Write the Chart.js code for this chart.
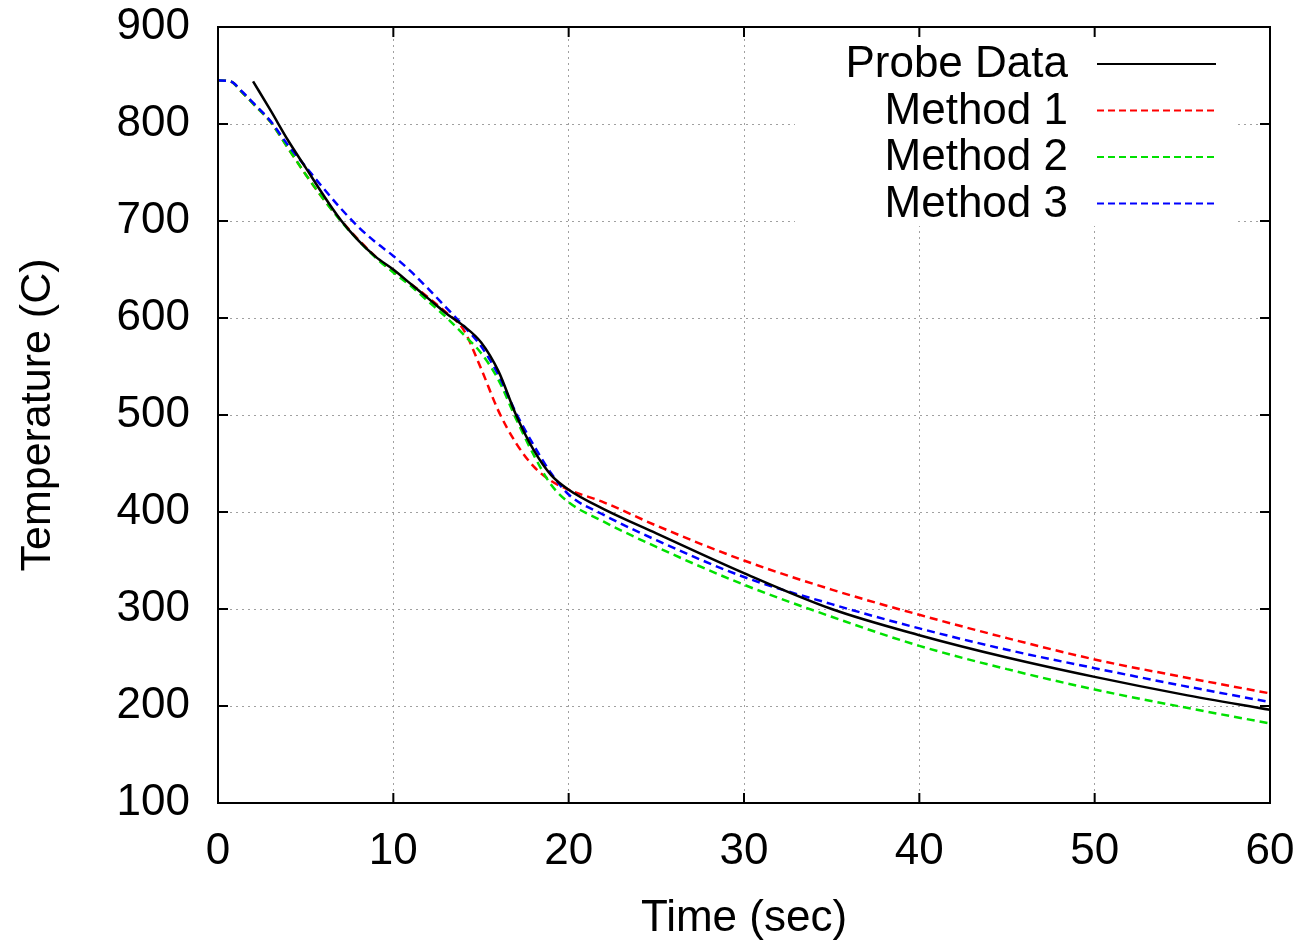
<!DOCTYPE html>
<html>
<head>
<meta charset="utf-8">
<script src="https://cdn.jsdelivr.net/npm/chart.js"></script>
<style>
  html, body { margin: 0; padding: 0; background: #fff; }
  #wrap { width: 1305px; height: 945px; }
</style>
</head>
<body>
<div id="wrap"><canvas id="myChart" width="1305" height="945"></canvas></div>
<script>
// time axis (sec)
var timeSec = [0, 0.7, 1.4, 2, 3, 4, 5, 6, 7, 8, 9, 10, 11, 12, 13, 14, 15, 16, 17, 18, 19, 20, 22, 25, 30, 35, 40, 45, 50, 55, 60];

// temperatures (C)
var probeData = [null, null, null, 844, 814, 783, 755, 727, 701, 680, 663, 650, 635, 620, 605, 592, 575, 545, 500, 464, 438, 423, 403, 378, 337, 300, 273, 250, 230, 212, 196];
var method1 = [845, 844, 832, 821, 802, 775, 748, 723, 701, 681, 663, 648, 635, 621, 606, 588, 548, 504, 471, 447, 432, 423, 410, 386, 350, 320, 294, 270, 248, 230, 213];
var method2 = [845, 844, 832, 821, 802, 775, 748, 723, 700, 680, 662, 647, 633, 617, 601, 583, 564, 536, 496, 459, 428, 410, 390, 364, 325, 292, 262, 238, 217, 199, 182];
var method3 = [845, 844, 833, 822, 803, 778, 756, 734, 713, 694, 678, 664, 648, 630, 611, 592, 571, 541, 502, 469, 440, 418, 397, 371, 333, 305, 280, 258, 239, 221, 204];

var seriesNames = ['Probe Data', 'Method 1', 'Method 2', 'Method 3'];
var xTicks = [0, 10, 20, 30, 40, 50, 60];
var yTicks = [100, 200, 300, 400, 500, 600, 700, 800, 900];

var fontName = "'Liberation Sans', Arial, sans-serif";

function toPoints(values) {
  var pts = [];
  for (var i = 0; i < timeSec.length; i++) {
    if (values[i] !== null) pts.push({x: timeSec[i], y: values[i]});
  }
  return pts;
}

function makeSet(label, values, color, dash, order) {
  return {
    label: label,
    data: toPoints(values),
    borderColor: color,
    backgroundColor: color,
    borderWidth: 2.5,
    borderDash: dash,
    pointRadius: 0,
    cubicInterpolationMode: 'monotone',
    fill: false,
    order: order
  };
}

// white box behind the key, grid stops there
var keyBox = {left: 795, top: 30, right: 1235, bottom: 226};

var framePlugin = {
  id: 'frame',
  beforeDatasetsDraw: function (chart) {
    var c = chart.ctx;
    c.save();
    c.fillStyle = '#fff';
    c.fillRect(keyBox.left, keyBox.top, keyBox.right - keyBox.left, keyBox.bottom - keyBox.top);
    c.restore();
  },
  afterDraw: function (chart) {
    var c = chart.ctx;
    var a = chart.chartArea;
    var xs = chart.scales.x;
    var ys = chart.scales.y;
    c.save();
    c.strokeStyle = '#000';
    c.lineWidth = 2;
    c.strokeRect(a.left, a.top, a.right - a.left, a.bottom - a.top);
    // inward ticks on all four sides
    var len = 10;
    c.beginPath();
    xTicks.forEach(function (v) {
      var px = xs.getPixelForValue(v);
      c.moveTo(px, a.bottom); c.lineTo(px, a.bottom - len);
      c.moveTo(px, a.top); c.lineTo(px, a.top + len);
    });
    yTicks.forEach(function (v) {
      var py = ys.getPixelForValue(v);
      c.moveTo(a.left, py); c.lineTo(a.left + len, py);
      c.moveTo(a.right, py); c.lineTo(a.right - len, py);
    });
    c.stroke();

    // key: text right aligned, sample line to the right
    c.font = '44px ' + fontName;
    c.textAlign = 'right';
    c.textBaseline = 'middle';
    chart.data.datasets.forEach(function (ds, i) {
      var y = 64 + i * 46.5;
      c.fillStyle = '#000';
      c.fillText(ds.label, 1068, y + 1);
      c.strokeStyle = ds.borderColor;
      c.lineWidth = 2;
      c.setLineDash(ds.borderDash && ds.borderDash.length ? [7, 4] : []);
      c.beginPath();
      c.moveTo(1097, y);
      c.lineTo(1216, y);
      c.stroke();
    });
    c.restore();
  }
};

var ctx = document.getElementById('myChart').getContext('2d');

var myChart = new Chart(ctx, {
  type: 'line',
  data: {
    datasets: [
      makeSet(seriesNames[0], probeData, '#000000', [], 0),
      makeSet(seriesNames[1], method1, '#ff0000', [8, 5], 3),
      makeSet(seriesNames[2], method2, '#00e000', [8, 5], 2),
      makeSet(seriesNames[3], method3, '#0000ff', [8, 5], 1)
    ]
  },
  options: {
    responsive: false,
    animation: false,
    layout: { padding: { top: 27, right: 35, left: 0, bottom: 0 } },
    plugins: {
      legend: { display: false },
      tooltip: { enabled: false }
    },
    scales: {
      x: {
        type: 'linear',
        min: 0,
        max: 60,
        afterBuildTicks: function (scale) {
          scale.ticks = xTicks.map(function (v) { return {value: v}; });
        },
        afterFit: function (scale) {
          scale.height = 142;
          scale.paddingLeft = 0;
          scale.paddingRight = 0;
        },
        grid: { color: '#a0a0a0', lineWidth: 1, drawTicks: false },
        border: { display: false, dash: [2, 4] },
        ticks: {
          color: '#000',
          padding: 22,
          maxRotation: 0,
          font: { family: fontName, size: 44 }
        },
        title: {
          display: true,
          text: 'Time (sec)',
          color: '#000',
          padding: { top: 0, bottom: 0 },
          font: { family: fontName, size: 44 }
        }
      },
      y: {
        type: 'linear',
        min: 100,
        max: 900,
        afterBuildTicks: function (scale) {
          scale.ticks = yTicks.map(function (v) { return {value: v}; });
        },
        afterFit: function (scale) {
          scale.width = 218;
          scale.paddingTop = 0;
          scale.paddingBottom = 0;
        },
        grid: { color: '#a0a0a0', lineWidth: 1, drawTicks: false },
        border: { display: false, dash: [2, 4] },
        ticks: {
          color: '#000',
          padding: 28,
          font: { family: fontName, size: 44 }
        },
        title: {
          display: true,
          text: 'Temperature (C)',
          color: '#000',
          padding: { top: 12, bottom: 0 },
          font: { family: fontName, size: 43 }
        }
      }
    }
  },
  plugins: [framePlugin]
});
</script>
</body>
</html>
